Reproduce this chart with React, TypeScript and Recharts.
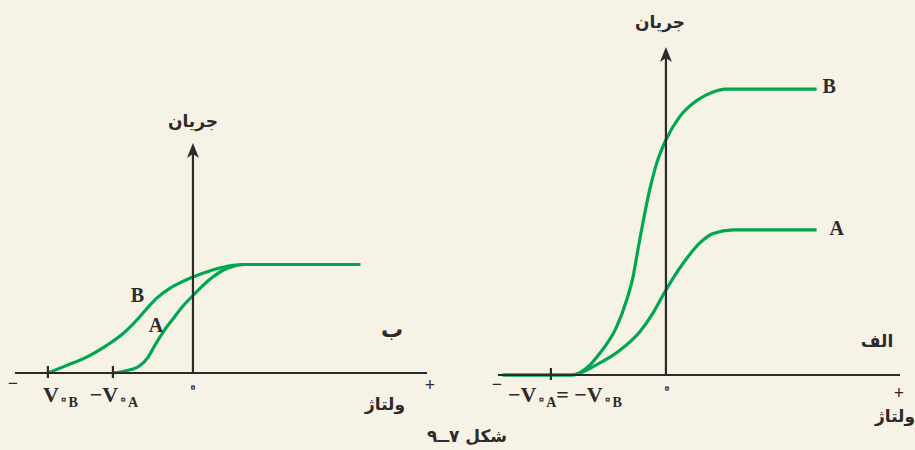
import React from 'react';
import { LineChart, Line, XAxis, YAxis, ReferenceLine, LabelList, Label } from 'recharts';

// ---------------- Panel "ب" (left) ----------------
const leftB_V = [-3.0, -2.62, -2.21, -1.79, -1.45, -1.17, -0.96, -0.76, -0.48, -0.21, 0, 0.28, 0.55, 0.83, 1.1, 3.46];
const leftB_I = [0, 0.068, 0.144, 0.253, 0.361, 0.484, 0.59, 0.685, 0.78, 0.845, 0.885, 0.931, 0.968, 0.993, 1.0, 1.0];
const leftA_V = [-1.655, -1.38, -1.1, -0.93, -0.79, -0.62, -0.41, -0.21, 0, 0.21, 0.41, 0.62, 0.83, 1.03, 3.46];
const leftA_I = [0, 0.021, 0.067, 0.144, 0.253, 0.375, 0.5, 0.615, 0.714, 0.808, 0.884, 0.947, 0.983, 1.0, 1.0];
const leftTicks = [-3.68, -3.0, -1.655, 0, 4.84];
const leftTickLabels = ['−', 'V۰B', '−V۰A', '۰', '+'];
const leftMarkedTicks = [-3.0, -1.655];
const leftVRange = [-3.68, 4.84];
const leftIMax = 2.12;

// ---------------- Panel "الف" (right) ----------------
const rightB_V = [-2.84, -1.64, -1.32, -1.15, -0.86, -0.68, -0.57, -0.48, -0.39, -0.28, -0.16, 0, 0.24, 0.53, 0.82, 1.03, 2.62];
const rightB_I = [0, 0, 0.07, 0.15, 0.33, 0.52, 0.68, 0.88, 1.07, 1.28, 1.46, 1.62, 1.78, 1.89, 1.95, 1.97, 1.97];
const rightA_V = [-2.84, -1.64, -1.21, -0.8, -0.45, -0.22, 0, 0.3, 0.59, 0.82, 1.17, 2.62];
const rightA_I = [0, 0, 0.07, 0.17, 0.3, 0.43, 0.586, 0.77, 0.91, 0.975, 1.0, 1.0];
const rightTicks = [-2.92, -2.0, 0, 4.07];
const rightTickLabels = ['−', '−V۰A= −V۰B', '۰', '+'];
const rightMarkedTicks = [-2.0];
const rightVRange = [-2.92, 4.07];
const rightIMax = 2.26;

// ---------------- Text ----------------
const currentTitle = 'جریان';
const voltageTitle = 'ولتاژ';
const leftPanelName = 'ب';
const rightPanelName = 'الف';
const curveNames = ['A', 'B'];
const caption = 'شکل ۷ــ۹';

const toPoints = (vs: number[], is: number[]) => vs.map((v, k) => ({ v, i: is[k] }));

const BG = '#F6F2E5';
const GREEN = '#00A650';
const AXIS = '#2D2A2B';
const SERIF = '"Liberation Serif", "Times New Roman", serif';
const ARABIC = '"DejaVu Sans", sans-serif';

type TickLayout = { dx: number; dy: number; anchor: 'start' | 'middle' | 'end'; size: number };

const leftTickLayout: TickLayout[] = [
  { dx: -2, dy: 15.5, anchor: 'middle', size: 18 },
  { dx: -5, dy: 29, anchor: 'start', size: 22 },
  { dx: 1, dy: 29, anchor: 'middle', size: 22 },
  { dx: 0, dy: 21, anchor: 'middle', size: 24 },
  { dx: 3, dy: 17.5, anchor: 'middle', size: 18 },
];
const rightTickLayout: TickLayout[] = [
  { dx: -1, dy: 14.5, anchor: 'middle', size: 18 },
  { dx: 14, dy: 27, anchor: 'middle', size: 22 },
  { dx: 1, dy: 20, anchor: 'middle', size: 24 },
  { dx: -1, dy: 23.5, anchor: 'middle', size: 18 },
];

// the Persian zero is drawn as a small ring (as in the printed figure)
const ringStyle = { fill: BG, stroke: AXIS, strokeWidth: 1.1 } as const;

function mathParts(label: string, size: number) {
  const out: React.ReactNode[] = [];
  const sub = 14;
  const drop = 5;
  let key = 0;
  let k = 0;
  let lowered = false;
  let buf = '';
  const flush = () => {
    if (buf) {
      out.push(
        <tspan key={key++} fontSize={size} dy={lowered ? -drop : 0}>
          {buf}
        </tspan>,
      );
      lowered = false;
      buf = '';
    }
  };
  while (k < label.length) {
    const ch = label[k];
    if (ch === '۰' && label.length > 1) {
      flush();
      out.push(
        <tspan key={key++} fontSize={16} dy={lowered ? 0 : drop - 3} fontFamily={ARABIC} {...ringStyle}>
          {'۰'}
        </tspan>,
      );
      out.push(
        <tspan key={key++} fontSize={sub} dy={3}>
          {label[k + 1] ?? ''}
        </tspan>,
      );
      lowered = true;
      k += 2;
      continue;
    }
    buf += ch;
    k++;
  }
  flush();
  return out;
}

const makeTick = (ticks: number[], labels: string[], marked: number[], layout: TickLayout[]) => (props: any) => {
  const { x, y, payload } = props;
  const idx = ticks.indexOf(payload.value);
  if (idx < 0) return <g />;
  const L = layout[idx];
  const lab = labels[idx];
  const isZero = lab === '۰';
  return (
    <g>
      {marked.includes(payload.value) && (
        <line x1={x} x2={x} y1={y - 7} y2={y + 5} stroke={AXIS} strokeWidth={2.2} />
      )}
      {isZero ? (
        <text x={x + L.dx} y={y + L.dy} textAnchor="middle" fontFamily={ARABIC} fontSize={L.size} {...ringStyle}>
          {lab}
        </text>
      ) : (
        <text
          x={x + L.dx}
          y={y + L.dy}
          textAnchor={L.anchor}
          fill={AXIS}
          fontFamily={SERIF}
          fontWeight={700}
          fontSize={L.size}
        >
          {mathParts(lab, L.size)}
        </text>
      )}
    </g>
  );
};

const makeYAxisShape = (titleDx: number, titleDy: number) => (p: any) => {
  const { x1, y1, x2, y2 } = p;
  return (
    <g>
      <line x1={x1} y1={y1} x2={x2} y2={y2 + 8} stroke={AXIS} strokeWidth={2.2} />
      <path
        d={`M ${x2} ${y2} L ${x2 - 6} ${y2 + 15} L ${x2} ${y2 + 11} L ${x2 + 6} ${y2 + 15} Z`}
        fill={AXIS}
      />
      <text
        x={x2 + titleDx}
        y={y2 + titleDy}
        textAnchor="middle"
        fontFamily={ARABIC}
        fontWeight={700}
        fontSize={17}
        fill={AXIS}
      >
        {currentTitle}
      </text>
    </g>
  );
};

const makeXAxisLabel = (tdx: number, tdy: number, panel: string, pdx: number, pdy: number, psize: number) => (p: any) => {
  const vb = p.viewBox || {};
  const right = (vb.x ?? 0) + (vb.width ?? 0);
  const base = vb.y ?? 0;
  return (
    <g>
      <text x={right + tdx} y={base + tdy} textAnchor="middle" fontFamily={ARABIC} fontWeight={700} fontSize={17} fill={AXIS}>
        {voltageTitle}
      </text>
      <text x={right + pdx} y={base + pdy} textAnchor="middle" fontFamily={ARABIC} fontWeight={700} fontSize={psize} fill={AXIS}>
        {panel}
      </text>
    </g>
  );
};

const makeCurveLabel = (text: string, atIndex: number | 'last', dx: number, dy: number, anchor: 'start' | 'middle', count: number) =>
  (p: any) => {
    const target = atIndex === 'last' ? count - 1 : atIndex;
    if (p.index !== target) return null;
    return (
      <text x={p.x + dx} y={p.y + dy} textAnchor={anchor} fontFamily={SERIF} fontWeight={700} fontSize={20} fill={AXIS}>
        {text}
      </text>
    );
  };

function Panel(props: {
  left: number;
  width: number;
  margin: { top: number; right: number; bottom: number; left: number };
  vRange: number[];
  iMax: number;
  ticks: number[];
  tickLabels: string[];
  marked: number[];
  tickLayout: TickLayout[];
  aPts: { v: number; i: number }[];
  bPts: { v: number; i: number }[];
  aLabel: (p: any) => React.ReactNode;
  bLabel: (p: any) => React.ReactNode;
  yTitle: [number, number];
  xTitle: [number, number];
  panelName: string;
  panelPos: [number, number, number];
}) {
  return (
    <div style={{ position: 'absolute', left: props.left, top: 0 }}>
      <LineChart width={props.width} height={450} margin={props.margin}>
        <XAxis
          type="number"
          dataKey="v"
          domain={props.vRange}
          ticks={props.ticks}
          interval={0}
          tickLine={false}
          tickSize={0}
          tickMargin={0}
          height={30}
          axisLine={{ stroke: AXIS, strokeWidth: 2.2 }}
          tick={makeTick(props.ticks, props.tickLabels, props.marked, props.tickLayout)}
        >
          <Label
            content={makeXAxisLabel(
              props.xTitle[0],
              props.xTitle[1],
              props.panelName,
              props.panelPos[0],
              props.panelPos[1],
              props.panelPos[2],
            )}
          />
        </XAxis>
        <YAxis type="number" dataKey="i" domain={[0, props.iMax]} hide width={0} />
        <Line
          data={props.bPts}
          dataKey="i"
          type="monotone"
          stroke={GREEN}
          strokeWidth={3.2}
          dot={false}
          activeDot={false}
          isAnimationActive={false}
        >
          <LabelList dataKey="i" content={props.bLabel} />
        </Line>
        <Line
          data={props.aPts}
          dataKey="i"
          type="monotone"
          stroke={GREEN}
          strokeWidth={3.2}
          dot={false}
          activeDot={false}
          isAnimationActive={false}
        >
          <LabelList dataKey="i" content={props.aLabel} />
        </Line>
        <ReferenceLine
          segment={[{ x: 0, y: 0 }, { x: 0, y: props.iMax }]}
          stroke={AXIS}
          shape={makeYAxisShape(props.yTitle[0], props.yTitle[1])}
        />
      </LineChart>
    </div>
  );
}

export default function App() {
  const lB = toPoints(leftB_V, leftB_I);
  const lA = toPoints(leftA_V, leftA_I);
  const rB = toPoints(rightB_V, rightB_I);
  const rA = toPoints(rightA_V, rightA_I);
  return (
    <div style={{ position: 'absolute', left: 0, top: 0, width: 915, height: 450, background: BG, overflow: 'hidden' }}>
      <Panel
        left={0}
        width={450}
        margin={{ top: 143, right: 23, bottom: 47, left: 15 }}
        vRange={leftVRange}
        iMax={leftIMax}
        ticks={leftTicks}
        tickLabels={leftTickLabels}
        marked={leftMarkedTicks}
        tickLayout={leftTickLayout}
        aPts={lA}
        bPts={lB}
        aLabel={makeCurveLabel(curveNames[0], 5, -7, 0, 'middle', lA.length)}
        bLabel={makeCurveLabel(curveNames[1], 5, 1, -18, 'middle', lB.length)}
        yTitle={[0, -16]}
        xTitle={[-42, 37]}
        panelName={leftPanelName}
        panelPos={[-35, -36, 22]}
      />
      <Panel
        left={465}
        width={450}
        margin={{ top: 47, right: 15, bottom: 45, left: 33 }}
        vRange={rightVRange}
        iMax={rightIMax}
        ticks={rightTicks}
        tickLabels={rightTickLabels}
        marked={rightMarkedTicks}
        tickLayout={rightTickLayout}
        aPts={rA}
        bPts={rB}
        aLabel={makeCurveLabel(curveNames[0], 'last', 13, 5, 'start', rA.length)}
        bLabel={makeCurveLabel(curveNames[1], 'last', 6, 4, 'start', rB.length)}
        yTitle={[-6, -19]}
        xTitle={[-5, 47]}
        panelName={rightPanelName}
        panelPos={[-23, -28, 17]}
      />
      <div
        style={{
          position: 'absolute',
          left: 367,
          width: 200,
          top: 426,
          textAlign: 'center',
          fontFamily: ARABIC,
          fontWeight: 700,
          fontSize: 17,
          lineHeight: '20px',
          color: AXIS,
        }}
      >
        {caption}
      </div>
    </div>
  );
}
